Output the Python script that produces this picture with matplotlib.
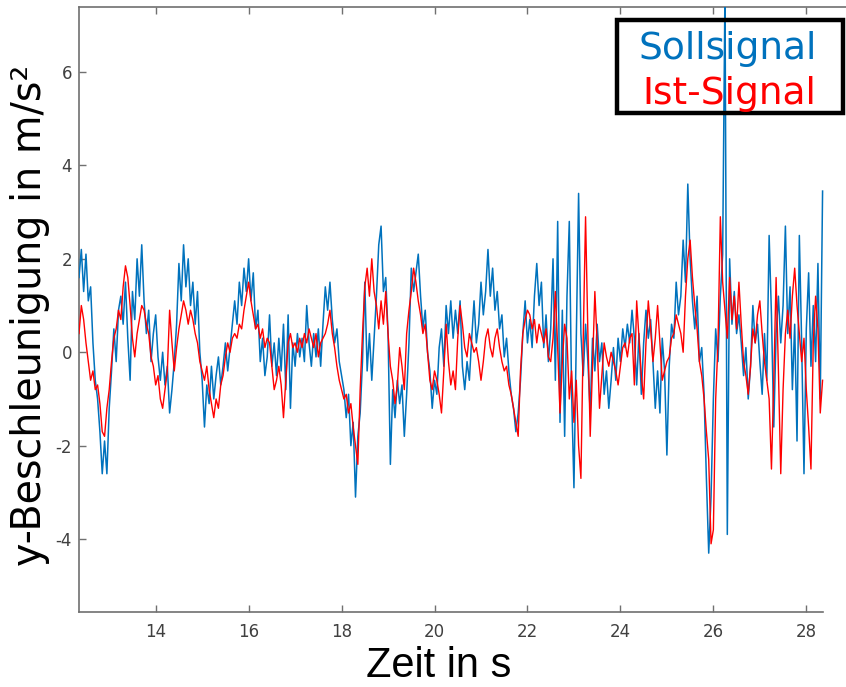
import numpy as np
import matplotlib
matplotlib.use("Agg")
import matplotlib.pyplot as plt
from matplotlib.patches import Rectangle

plt.rcParams["axes.unicode_minus"] = False

# ---- data (0.05 s sampling from 12.35 s) ----
t_start = 12.35
t_step = 0.05

soll = [
    1.6, 2.2, 1.3, 2.1, 1.1, 1.4, 0.2, -0.6, -1.0, -1.7, -2.6, -1.9, -2.6, -1.2, -0.4, 0.5, -0.2, 0.9, 1.2, 0.6,
    1.5, 0.3, -0.6, 1.3, 0.7, 2.0, 1.2, 2.3, 1.1, 0.4, 0.9, -0.2, 0.4, 0.8, -0.1, -0.6, 0.0, -0.7, -0.3, -1.3,
    -0.8, -0.2, 0.6, 1.9, 1.1, 2.3, 1.4, 2.0, 1.0, 1.5, 0.6, 1.3, 0.0, -0.6, -1.6, -0.7, -1.1, -0.3, -1.0, -0.5,
    -0.1, -0.7, -0.3, 0.2, -0.4, 0.1, 0.6, 1.1, 0.6, 1.5, 1.0, 1.8, 1.3, 2.0, 1.1, 1.7, 0.5, 0.9, -0.2, 0.3,
    -0.5, -0.1, 0.8, -0.3, 0.2, -0.5, 0.3, -0.4, 0.6, -0.8, 0.8, -1.2, 0.2, -0.3, 0.4, -0.1, 0.3, -0.2, 1.0, 0.2,
    -0.3, 0.4, -0.1, 0.5, -0.3, 0.6, 1.4, 0.9, 1.5, 0.7, 0.2, 0.5, -0.2, -0.5, -0.8, -1.4, -0.9, -2.0, -1.5, -3.1,
    -1.8, -1.3, -0.2, 1.5, -0.4, 0.4, -0.6, 0.3, 1.2, 2.3, 2.7, 1.3, 1.6, 0.4, -2.4, -0.8, -1.4, -0.6, -1.1, -0.7,
    -1.8, -0.9, 0.2, 1.8, 1.3, 1.7, 2.1, 1.2, 0.5, 0.9, 0.0, -0.4, -1.2, -0.6, -0.9, 0.1, 0.5, -0.3, 1.0, 0.4,
    1.1, 0.3, 0.9, 0.4, 1.1, -0.3, -0.8, -0.2, -0.6, 0.3, 1.1, 0.2, 0.6, 1.5, 0.8, 1.3, 2.2, 1.2, 1.8, 0.9,
    1.3, 0.5, 0.8, -0.1, 0.3, -0.4, -0.9, -1.2, -1.7, -1.3, -0.6, 0.4, 1.1, 0.2, 0.7, 0.1, 1.2, 1.9, 1.0, 1.5,
    0.1, 0.8, -0.2, 0.5, 2.0, -0.6, 2.8, -1.5, 0.9, -1.8, 1.2, 2.8, -0.9, -2.9, 0.2, 3.4, 0.4, -0.5, 0.6, -0.2,
    -1.3, 0.3, -0.4, 0.6, -0.2, 0.2, -0.9, -0.4, -1.2, -0.6, 0.1, -0.6, 0.3, -0.2, 0.5, 0.1, 0.6, 0.2, 0.9, 0.3,
    -0.7, 0.4, -0.9, 0.2, 0.9, 0.3, 0.7, -0.2, -1.2, -0.4, -1.3, 0.3, -0.4, -2.2, -0.3, 0.6, 0.3, 1.5, 0.8, 1.2,
    2.4, 1.5, 3.6, 2.0, 1.1, 0.5, 1.2, -0.2, 0.1, -0.9, -2.7, -4.3, -3.1, -1.0, 0.5, -0.2, 1.2, 2.1, 7.8, -3.9,
    2.0, 0.6, 1.3, 0.4, 0.8, 0.2, -0.5, 0.1, -1.0, -0.3, 1.0, 0.2, 0.6, -0.2, -0.9, 0.4, -0.6, 2.5, 0.8, -1.6,
    0.4, 1.2, 0.2, 1.0, 2.7, 0.4, 1.4, -0.8, 0.6, -1.9, 2.5, 0.2, -2.6, 0.5, 1.7, -0.3, 1.0, -0.2, 1.9, -1.0,
    3.45,
]

ist = [
    0.4, 1.0, 0.7, 0.2, -0.2, -0.6, -0.4, -0.8, -0.7, -1.1, -1.7, -1.8, -1.2, -0.8, -0.2, 0.3, 0.5, 0.9, 0.7, 1.4,
    1.85, 1.6, 1.0, 0.3, -0.1, 0.4, 0.7, 1.0, 0.9, 0.6, 0.4, -0.1, -0.3, -0.7, -0.5, -1.0, -1.2, -0.8, -0.4, 0.9,
    0.2, -0.4, 0.1, 0.5, 0.8, 1.1, 0.9, 0.6, 0.9, 0.7, 0.4, 0.2, -0.2, -0.4, -0.6, -0.3, -0.8, -1.1, -1.4, -1.0,
    -1.2, -0.7, -0.5, -0.1, 0.2, 0.0, 0.3, 0.4, 0.3, 0.6, 0.5, 0.9, 1.2, 1.5, 1.1, 0.8, 0.5, 0.6, 0.3, 0.5,
    0.1, 0.3, 0.2, -0.3, -0.8, -0.6, -0.3, -0.7, -1.4, -0.6, 0.2, 0.4, 0.1, 0.2, 0.0, 0.3, 0.1, 0.4, 0.2, 0.5,
    0.3, 0.1, 0.4, -0.1, 0.2, 0.3, 0.4, 0.6, 0.9, 0.4, 0.1, -0.3, -0.6, -0.8, -1.0, -0.9, -1.3, -1.1, -1.6, -2.0,
    -2.4, -0.8, 0.4, 1.4, 1.8, 1.2, 2.0, 1.3, 1.0, 0.5, 1.1, 0.6, 1.3, 0.4, -0.3, -0.6, -1.1, -0.7, 0.1, -0.3,
    -0.8, 0.4, 0.9, 1.3, 1.8, 1.5, 1.1, 0.8, 0.4, 0.6, 0.0, -0.6, -0.8, -0.4, -0.6, -0.9, -1.3, -0.4, 0.6, -0.2,
    -0.7, -0.4, -0.8, 0.3, 1.0, 0.6, 0.1, -0.1, 0.4, 0.2, 0.0, 0.1, -0.2, -0.6, -0.2, 0.3, 0.5, 0.1, -0.1, 0.3,
    0.5, 0.1, -0.2, -0.4, -0.3, -0.7, -0.9, -1.2, -1.5, -1.8, -0.4, 0.4, 0.7, 0.9, 0.8, 0.5, 0.7, 0.2, 0.6, 0.4,
    0.2, 0.5, -0.1, -0.2, 0.3, 1.3, 0.1, -1.3, -0.2, 0.6, 0.3, -1.0, -0.4, -1.5, -0.6, -2.0, -2.7, 0.3, 2.9, 0.4,
    -1.8, -0.3, 1.3, 0.2, -1.2, -0.5, 0.2, -0.1, -0.3, 0.0, -0.2, -0.4, -0.7, -0.3, 0.1, 0.2, -0.1, 0.3, 0.4, -0.7,
    1.1, 0.3, -0.5, -1.0, 0.2, 1.1, 0.5, -0.2, 0.3, 1.0, 0.2, -0.6, -0.4, -0.2, -0.1, 0.3, 0.4, 0.8, 0.6, 0.4,
    0.0, 1.2, 2.0, 2.4, 1.6, 1.0, 0.5, -0.2, -0.5, -1.0, -1.7, -2.3, -4.1, -3.8, -1.0, 0.2, 2.9, 1.5, 0.9, 0.3,
    1.6, 0.7, 1.2, 0.5, 1.5, 0.6, -0.2, -0.5, -0.9, -0.3, 0.5, 0.2, 0.8, 1.1, 0.4, -0.2, -0.6, -1.0, -2.5, -0.6,
    1.6, -0.4, -2.6, -0.8, 0.4, 0.9, 0.3, 1.2, 1.8, 1.0, 0.4, -0.2, 0.3, -0.8, -1.6, -2.5, 0.2, 1.2, 0.5, -1.3,
    -0.6,
]

legend_labels = ["Sollsignal", "Ist-Signal"]
x_label = "Zeit in s"
y_label = "y-Beschleunigung in m/s²"
x_ticks = [14, 16, 18, 20, 22, 24, 26, 28]
y_ticks = [-4, -2, 0, 2, 4, 6]

t = t_start + t_step * np.arange(len(soll))

blue = "#0072BD"
red = "#FF0000"
spine_c = "#707070"
tick_c = "#404040"

W, H = 846, 687
fig = plt.figure(figsize=(W / 100, H / 100), dpi=100)
ax = fig.add_axes([79 / W, 75 / H, 1 - 79 / W, 605 / H])

ax.plot(t, soll, color=blue, lw=1.1, zorder=3)
ax.plot(t, ist, color=red, lw=1.0, zorder=4)

x_end = t[-1]
ax.set_xlim(12.35, 28.854)
ax.set_ylim(-5.56, 7.39)

ax.set_xticks(x_ticks)
ax.set_yticks(y_ticks)
ax.tick_params(direction="in", length=5, width=1, colors=spine_c,
               labelcolor=tick_c, labelsize=12, top=True, right=False)
ax.tick_params(axis="x", pad=8)
ax.tick_params(axis="y", pad=5)

for s in ["left", "bottom", "top"]:
    ax.spines[s].set_color(spine_c)
    ax.spines[s].set_linewidth(1.2)
ax.spines["right"].set_visible(False)
ax.spines["bottom"].set_bounds(12.35, x_end)

# axis labels
fig.text(439 / W, 1 / H, x_label, ha="center", va="bottom",
         fontsize=30, family="Liberation Sans", color="black")
fig.text(30 / W, 1 - 315 / H, y_label, ha="center", va="center",
         rotation=90, fontsize=28.5, family="DejaVu Sans", color="black")

# legend-like text box (top right)
fig.add_artist(Rectangle((617 / W, 1 - 113 / H), (843 - 617) / W, (113 - 20) / H,
                         transform=fig.transFigure, fc="none", ec="black",
                         lw=3.2, zorder=10))
fig.text(728 / W, 1 - 59 / H, legend_labels[0], ha="center", va="baseline",
         fontsize=27, color=blue, zorder=11)
fig.text(729 / W, 1 - 104 / H, legend_labels[1], ha="center", va="baseline",
         fontsize=27, color=red, zorder=11)

fig.savefig("out.png", dpi=100)
